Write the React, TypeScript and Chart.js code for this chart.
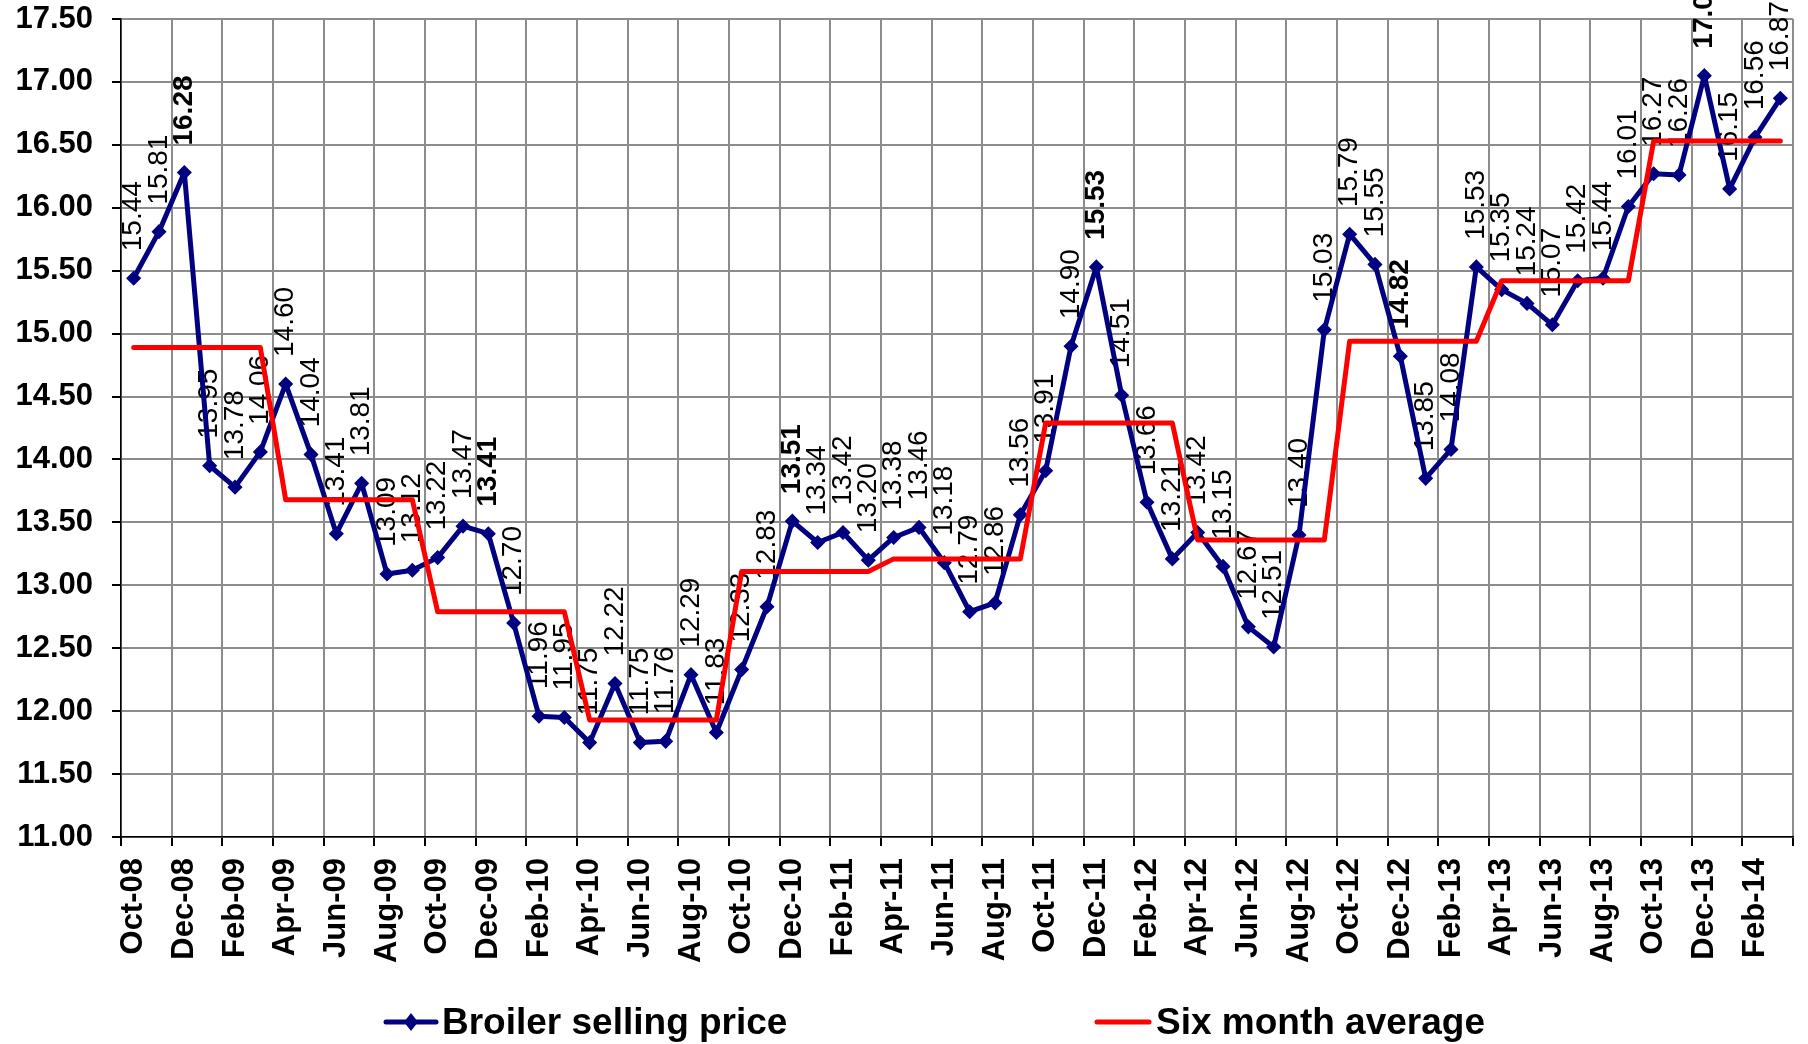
import React, { useEffect, useRef } from 'react';
import { Chart, registerables } from 'chart.js';

Chart.register(...registerables);

// Monthly categories, Oct-08 .. Mar-14
const months = [
  'Oct-08', 'Nov-08', 'Dec-08',
  'Jan-09', 'Feb-09', 'Mar-09', 'Apr-09', 'May-09', 'Jun-09', 'Jul-09', 'Aug-09', 'Sep-09', 'Oct-09', 'Nov-09', 'Dec-09',
  'Jan-10', 'Feb-10', 'Mar-10', 'Apr-10', 'May-10', 'Jun-10', 'Jul-10', 'Aug-10', 'Sep-10', 'Oct-10', 'Nov-10', 'Dec-10',
  'Jan-11', 'Feb-11', 'Mar-11', 'Apr-11', 'May-11', 'Jun-11', 'Jul-11', 'Aug-11', 'Sep-11', 'Oct-11', 'Nov-11', 'Dec-11',
  'Jan-12', 'Feb-12', 'Mar-12', 'Apr-12', 'May-12', 'Jun-12', 'Jul-12', 'Aug-12', 'Sep-12', 'Oct-12', 'Nov-12', 'Dec-12',
  'Jan-13', 'Feb-13', 'Mar-13', 'Apr-13', 'May-13', 'Jun-13', 'Jul-13', 'Aug-13', 'Sep-13', 'Oct-13', 'Nov-13', 'Dec-13',
  'Jan-14', 'Feb-14', 'Mar-14',
];

// Broiler selling price per month
const broilerPrice = [
  15.44, 15.81, 16.28,
  13.95, 13.78, 14.06, 14.60, 14.04, 13.41, 13.81, 13.09, 13.12, 13.22, 13.47, 13.41,
  12.70, 11.96, 11.95, 11.75, 12.22, 11.75, 11.76, 12.29, 11.83, 12.33, 12.83, 13.51,
  13.34, 13.42, 13.20, 13.38, 13.46, 13.18, 12.79, 12.86, 13.56, 13.91, 14.90, 15.53,
  14.51, 13.66, 13.21, 13.42, 13.15, 12.67, 12.51, 13.40, 15.03, 15.79, 15.55, 14.82,
  13.85, 14.08, 15.53, 15.35, 15.24, 15.07, 15.42, 15.44, 16.01, 16.27, 16.26, 17.05,
  16.15, 16.56, 16.87,
];

// Six month average, held flat across each half-year block
const sixMonthAverage = [
  14.89, 14.89, 14.89, 14.89, 14.89, 14.89,
  13.68, 13.68, 13.68, 13.68, 13.68, 13.68,
  12.79, 12.79, 12.79, 12.79, 12.79, 12.79,
  11.93, 11.93, 11.93, 11.93, 11.93, 11.93,
  13.11, 13.11, 13.11, 13.11, 13.11, 13.11,
  13.21, 13.21, 13.21, 13.21, 13.21, 13.21,
  14.29, 14.29, 14.29, 14.29, 14.29, 14.29,
  13.36, 13.36, 13.36, 13.36, 13.36, 13.36,
  14.94, 14.94, 14.94, 14.94, 14.94, 14.94,
  15.42, 15.42, 15.42, 15.42, 15.42, 15.42,
  16.53, 16.53, 16.53, 16.53, 16.53, 16.53,
];

const seriesNames = ['Broiler selling price', 'Six month average'];

const FONT = '"Liberation Sans", Arial, Helvetica, sans-serif';
const NAVY = '#000080';
const RED = '#ff0000';
const GRID = '#8c8c8c';
const CLEAR = 'rgba(0,0,0,0)';

// Vertical value labels above each price point (December values in bold)
const valueLabels = {
  id: 'valueLabels',
  beforeDatasetsDraw(chart: any) {
    const meta = chart.getDatasetMeta(0);
    const ctx = chart.ctx;
    ctx.save();
    ctx.fillStyle = '#000';
    ctx.textAlign = 'left';
    ctx.textBaseline = 'middle';
    meta.data.forEach((pt: any, i: number) => {
      const bold = months[i].startsWith('Dec');
      ctx.font = `${bold ? 'bold ' : ''}28px ${FONT}`;
      ctx.save();
      ctx.translate(pt.x, pt.y - 27);
      ctx.rotate(-Math.PI / 2);
      ctx.fillText(broilerPrice[i].toFixed(2), 0, 0);
      ctx.restore();
    });
    ctx.restore();
  },
};

// Legend row beneath the axis
const bottomLegend = {
  id: 'bottomLegend',
  afterDraw(chart: any) {
    const ctx = chart.ctx;
    const y = 1022;
    ctx.save();
    ctx.lineCap = 'round';
    ctx.lineWidth = 5;
    // price series symbol
    ctx.strokeStyle = NAVY;
    ctx.beginPath();
    ctx.moveTo(386, y);
    ctx.lineTo(436, y);
    ctx.stroke();
    ctx.fillStyle = NAVY;
    ctx.beginPath();
    ctx.moveTo(411, y - 9);
    ctx.lineTo(418, y);
    ctx.lineTo(411, y + 9);
    ctx.lineTo(404, y);
    ctx.closePath();
    ctx.fill();
    // average series symbol
    ctx.strokeStyle = RED;
    ctx.beginPath();
    ctx.moveTo(1097, y);
    ctx.lineTo(1149, y);
    ctx.stroke();

    ctx.fillStyle = '#000';
    ctx.font = `bold 37px ${FONT}`;
    ctx.textAlign = 'left';
    ctx.textBaseline = 'middle';
    ctx.fillText(seriesNames[0], 442, y + 2);
    ctx.fillText(seriesNames[1], 1156, y + 2);
    ctx.restore();
  },
};

export default function App() {
  const canvasRef = useRef<HTMLCanvasElement | null>(null);

  useEffect(() => {
    const canvas = canvasRef.current;
    if (!canvas) return;

    const everyOther = (c: any, on: string) =>
      c.index === undefined || c.index % 2 === 0 ? on : CLEAR;

    const chart = new Chart(canvas, {
      type: 'line',
      data: {
        labels: months,
        datasets: [
          {
            label: seriesNames[0],
            data: broilerPrice,
            borderColor: NAVY,
            backgroundColor: NAVY,
            borderWidth: 5,
            borderJoinStyle: 'round',
            borderCapStyle: 'round',
            pointStyle: 'rectRot',
            pointRadius: 6.5,
            pointBorderWidth: 1.5,
            pointBorderColor: NAVY,
            pointBackgroundColor: NAVY,
            tension: 0,
            order: 1,
          },
          {
            label: seriesNames[1],
            data: sixMonthAverage,
            borderColor: RED,
            backgroundColor: RED,
            borderWidth: 5,
            borderJoinStyle: 'round',
            borderCapStyle: 'round',
            pointRadius: 0,
            tension: 0,
            order: 0,
          },
        ],
      },
      options: {
        responsive: false,
        devicePixelRatio: 1,
        animation: false,
        layout: { padding: { top: 19, right: 15, left: 0, bottom: 0 } },
        plugins: {
          legend: { display: false },
          tooltip: { enabled: false },
        },
        scales: {
          x: {
            offset: true,
            grid: {
              offset: true,
              lineWidth: 2,
              color: (c: any) => everyOther(c, GRID),
              tickColor: (c: any) => everyOther(c, '#000'),
              tickLength: 9,
            },
            border: { color: '#000', width: 1.5 },
            ticks: {
              autoSkip: false,
              maxRotation: 90,
              minRotation: 90,
              padding: 12,
              color: '#000',
              font: { family: FONT, size: 31, weight: 'bold' },
              callback: (_v: any, i: number) => (i % 2 === 0 ? months[i] : ''),
            },
            afterFit: (s: any) => {
              s.height = 207;
              s.paddingLeft = 0;
              s.paddingRight = 0;
            },
          },
          y: {
            min: 11,
            max: 17.5,
            grid: {
              lineWidth: 2,
              color: GRID,
              tickColor: '#000',
              tickLength: 9,
            },
            border: { color: '#000', width: 1.5 },
            ticks: {
              stepSize: 0.5,
              padding: 19,
              color: '#000',
              font: { family: FONT, size: 31, weight: 'bold' },
              callback: (v: any) => Number(v).toFixed(2),
            },
            afterFit: (s: any) => {
              s.width = 121;
              s.paddingTop = 0;
              s.paddingBottom = 0;
            },
          },
        },
      } as any,
      plugins: [valueLabels, bottomLegend],
    });

    return () => chart.destroy();
  }, []);

  return (
    <div style={{ position: 'absolute', left: 0, top: 0, width: 1808, height: 1044, background: '#fff' }}>
      <canvas ref={canvasRef} width={1808} height={1044} style={{ display: 'block' }} />
    </div>
  );
}
